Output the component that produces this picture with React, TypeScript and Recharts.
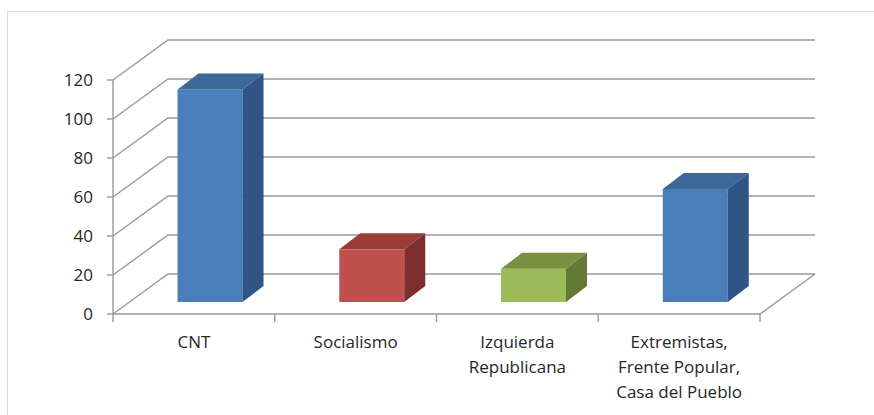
import React from 'react';
import { BarChart, Bar, XAxis, YAxis, CartesianGrid } from 'recharts';

// Category labels (line breaks as in the original axis)
const categories = [
  'CNT',
  'Socialismo',
  'Izquierda\nRepublicana',
  'Extremistas,\nFrente Popular,\nCasa del Pueblo',
];
const counts = [109, 27, 17, 58];
const yTicks = [0, 20, 40, 60, 80, 100, 120];

const data = categories.map((name, i) => ({ name, value: counts[i] }));

// front / top / side shades of each box
const faceColors = [
  { front: '#4A7EBB', top: '#3C6799', side: '#2F5485' },
  { front: '#C0504D', top: '#973C39', side: '#7E2F2D' },
  { front: '#9BBB59', top: '#779140', side: '#627A33' },
  { front: '#4A7EBB', top: '#3C6799', side: '#2F5485' },
];

const W = 874;
const H = 415;
const MARGIN = { top: 80, right: 114, bottom: 11, left: 53 };
const X_AXIS_H = 90;
const Y_AXIS_W = 60;
const PLOT_BOTTOM = H - MARGIN.bottom - X_AXIS_H;

// depth of the floor / back wall, and where the boxes sit inside it
const WALL_DX = 55;
const WALL_DY = -40;
const BAR_OX = 16;
const BAR_OY = -12;
const BAR_DX = 21;
const BAR_DY = -16;

const GRID = '#999999';
const TEXT = '#262626';
const FONT = '"Open Sans", sans-serif';
const TICK = 8;

const WallLine = (props: any) => {
  const { x1, y1, x2 } = props;
  const bx = WALL_DX;
  const by = WALL_DY;
  const isFloor = Math.abs(y1 - PLOT_BOTTOM) < 0.6;
  let d = `M${x1},${y1} L${x1 + bx},${y1 + by} L${x2 + bx},${y1 + by}`;
  if (isFloor) d += ` M${x2},${y1} L${x2 + bx},${y1 + by}`;
  return <path key={props.key} d={d} fill="none" stroke={GRID} strokeWidth={1.4} />;
};

const Box3D = (props: any) => {
  const { x, y, width, height, index } = props;
  if (!height || height <= 0) return <g />;
  const c = faceColors[index % faceColors.length];
  const fx = x + BAR_OX;
  const fy = y + BAR_OY;
  const top = `${fx},${fy} ${fx + width},${fy} ${fx + width + BAR_DX},${fy + BAR_DY} ${fx + BAR_DX},${fy + BAR_DY}`;
  const side = `${fx + width},${fy} ${fx + width + BAR_DX},${fy + BAR_DY} ${fx + width + BAR_DX},${fy + height + BAR_DY} ${fx + width},${fy + height}`;
  return (
    <g>
      <rect x={fx} y={fy} width={width} height={height} fill={c.front} />
      <polygon points={top} fill={c.top} />
      <polygon points={side} fill={c.side} />
    </g>
  );
};

const CategoryTick = (props: any) => {
  const { x, y, payload, index, visibleTicksCount } = props;
  const half = payload.offset ?? 0;
  const axisY = y - TICK;
  const lines = String(payload.value).split('\n');
  return (
    <g>
      <line x1={x - half} y1={axisY} x2={x - half} y2={axisY + TICK} stroke={GRID} strokeWidth={1.4} />
      {index === visibleTicksCount - 1 && (
        <line x1={x + half} y1={axisY} x2={x + half} y2={axisY + TICK} stroke={GRID} strokeWidth={1.4} />
      )}
      <text x={x} y={axisY + 34} textAnchor="middle" fill={TEXT} fontSize={17} fontFamily={FONT}>
        {lines.map((line, i) => (
          <tspan key={i} x={x} dy={i === 0 ? 0 : 25}>
            {line}
          </tspan>
        ))}
      </text>
    </g>
  );
};

export default function App() {
  return (
    <div style={{ position: 'absolute', left: 0, top: 0, width: W, height: H, background: '#fff' }}>
      <div
        style={{
          position: 'absolute',
          left: 7,
          top: 11,
          right: -2,
          bottom: -2,
          borderTop: '1.5px solid #d9d9d9',
          borderLeft: '1.5px solid #d9d9d9',
        }}
      />
      <div style={{ position: 'absolute', left: 0, top: 0 }}>
        <BarChart width={W} height={H} data={data} margin={MARGIN} barCategoryGap="30%">
          <CartesianGrid vertical={false} horizontal={WallLine} />
          <XAxis
            dataKey="name"
            height={X_AXIS_H}
            interval={0}
            axisLine={{ stroke: GRID, strokeWidth: 1.4 }}
            tickLine={false}
            tickSize={TICK}
            tickMargin={0}
            tick={CategoryTick}
          />
          <YAxis
            width={Y_AXIS_W}
            domain={[0, 120]}
            ticks={yTicks}
            interval={0}
            axisLine={{ stroke: GRID, strokeWidth: 1.4 }}
            tickLine={{ stroke: GRID, strokeWidth: 1.4 }}
            tickSize={6}
            tickMargin={14}
            tick={{ fill: TEXT, fontSize: 17, fontFamily: FONT }}
          />
          <Bar dataKey="value" shape={Box3D} isAnimationActive={false} />
        </BarChart>
      </div>
    </div>
  );
}
